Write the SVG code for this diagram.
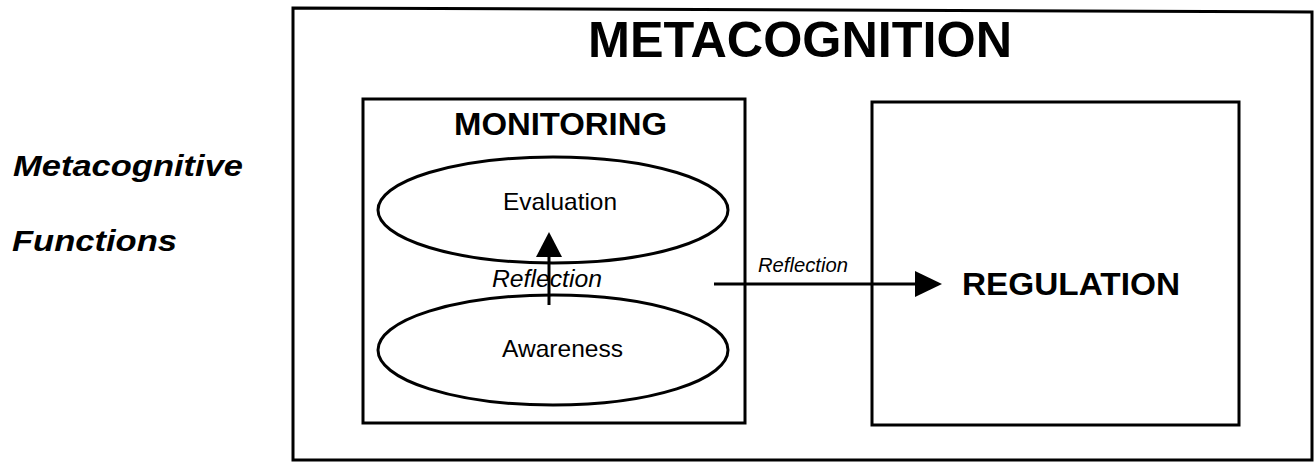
<svg xmlns="http://www.w3.org/2000/svg" width="1315" height="463" viewBox="0 0 1315 463">
  <style>
    .frame { fill: none; stroke: #000; stroke-width: 3; }
    .oval { fill: none; stroke: #000; stroke-width: 3; }
    .wire { fill: none; stroke: #000; stroke-width: 3; }
    .head { fill: #000; stroke: none; }
    text { font-family: "Liberation Sans", Arial, Helvetica, sans-serif; fill: #000; }
    .title { font-size: 50px; font-weight: bold; }
    .box-title { font-size: 32px; font-weight: bold; }
    .side { font-size: 30px; font-weight: bold; font-style: italic; }
    .item { font-size: 24px; }
    .edge-label { font-style: italic; }
  </style>
  <rect width="1315" height="463" fill="#fff"/>

  <!-- side caption -->
  <g id="side-caption">
    <text class="side" x="13" y="176" textLength="230" lengthAdjust="spacingAndGlyphs">Metacognitive</text>
    <text class="side" x="12" y="251" textLength="165" lengthAdjust="spacingAndGlyphs">Functions</text>
  </g>

  <!-- outer frame -->
  <g id="metacognition">
    <path class="frame" d="M293 8 L1312 12 L1312 460 L293 460 Z"/>
    <text class="title" x="588" y="57" textLength="424" lengthAdjust="spacingAndGlyphs">METACOGNITION</text>
  </g>

  <!-- monitoring block -->
  <g id="monitoring">
    <rect class="frame" x="363" y="99" width="382" height="324"/>
    <text class="box-title" x="454" y="135" textLength="213" lengthAdjust="spacingAndGlyphs">MONITORING</text>
  </g>

  <g id="evaluation">
    <ellipse class="oval" cx="553" cy="210" rx="175" ry="53"/>
    <text class="item" x="503" y="210" textLength="114" lengthAdjust="spacingAndGlyphs">Evaluation</text>
  </g>

  <g id="awareness">
    <ellipse class="oval" cx="553" cy="350" rx="175" ry="55"/>
    <text class="item" x="502" y="357" textLength="121" lengthAdjust="spacingAndGlyphs">Awareness</text>
  </g>

  <!-- regulation block -->
  <g id="regulation">
    <rect class="frame" x="872" y="102" width="367" height="323"/>
    <text class="box-title" x="962" y="295" textLength="218" lengthAdjust="spacingAndGlyphs">REGULATION</text>
  </g>

  <!-- connectors -->
  <g id="connectors">
    <g id="awareness-to-evaluation">
      <line class="wire" x1="549" y1="305" x2="549" y2="252"/>
      <polygon class="head" points="549,232 562,257 536,257"/>
      <text class="item edge-label" x="492" y="287" textLength="110" lengthAdjust="spacingAndGlyphs">Reflection</text>
    </g>
    <g id="monitoring-to-regulation">
      <line class="wire" x1="714" y1="284" x2="920" y2="284"/>
      <polygon class="head" points="942,284 915,271 915,297"/>
      <text class="edge-label" x="758" y="272" font-size="21" textLength="90" lengthAdjust="spacingAndGlyphs">Reflection</text>
    </g>
  </g>
</svg>
